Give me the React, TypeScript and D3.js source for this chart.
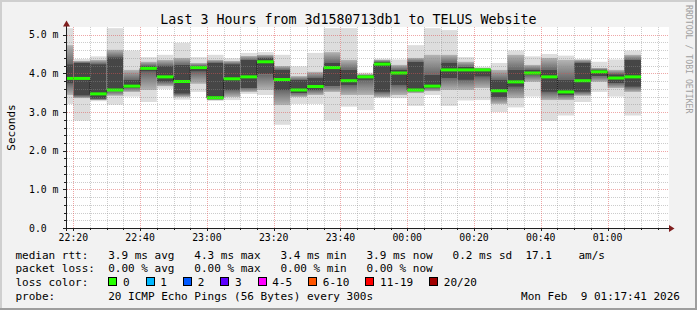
import React from "react";
import * as d3 from "d3";

const W = 697;
const H = 310;
const TITLE = "Last 3 Hours from 3d1580713db1 to TELUS Website";
const Y_LABEL = "Seconds";
const WATERMARK = "RRDTOOL / TOBI OETIKER";

const START = "2026-02-08T22:18:06Z";
const END = "2026-02-09T01:18:06Z";

// end time of each 5-minute step
const barEnds = [
  "22:20", "22:25", "22:30", "22:35", "22:40", "22:45", "22:50", "22:55",
  "23:00", "23:05", "23:10", "23:15", "23:20", "23:25", "23:30", "23:35",
  "23:40", "23:45", "23:50", "23:55", "00:00", "00:05", "00:10", "00:15",
  "00:20", "00:25", "00:30", "00:35", "00:40", "00:45", "00:50", "00:55",
  "01:00", "01:05", "01:10",
];

// smoke envelope (ms): max ping, upper mid, upper core, median, lower core, lower mid, min ping
const pingMax = [5.17, 4.37, 4.44, 5.17, 4.59, 4.42, 4.48, 4.79, 4.42, 4.48, 4.39, 4.53, 4.55, 4.48, 4.18, 4.53, 5.17, 5.17, 4.02, 4.38, 4.36, 4.73, 5.17, 5.12, 4.42, 4.17, 4.27, 4.59, 4.44, 4.50, 4.46, 4.37, 4.30, 4.36, 4.59];
const pingHi2 = [4.73, 4.32, 4.35, 4.61, 4.09, 4.30, 4.35, 4.40, 4.27, 4.35, 4.32, 4.45, 4.48, 4.19, 3.93, 4.04, 4.55, 4.35, 3.98, 4.35, 4.22, 4.40, 4.48, 4.48, 4.30, 4.14, 4.09, 4.48, 4.22, 4.40, 4.35, 4.35, 4.14, 4.09, 4.48];
const pingHi3 = [4.24, 4.27, 4.24, 4.42, 3.83, 4.19, 4.19, 4.22, 4.19, 4.27, 4.24, 4.35, 4.40, 4.09, 3.83, 3.88, 4.27, 4.09, 3.95, 4.30, 4.09, 4.30, 3.96, 4.27, 4.17, 4.11, 3.83, 4.09, 4.09, 4.09, 3.83, 4.27, 4.09, 3.98, 4.35];
const medianRtt = [3.87, 3.87, 3.47, 3.57, 3.67, 4.13, 3.91, 3.79, 4.15, 3.37, 3.86, 3.91, 4.30, 3.84, 3.57, 3.66, 4.15, 3.81, 3.91, 4.24, 4.01, 3.57, 3.67, 4.09, 4.09, 4.09, 3.55, 3.78, 4.01, 3.91, 3.52, 3.81, 4.04, 3.88, 3.91];
const pingLo3 = [3.73, 3.42, 3.34, 3.54, 3.62, 4.04, 3.78, 3.47, 4.04, 3.34, 3.57, 3.62, 3.98, 3.57, 3.49, 3.57, 3.67, 3.70, 3.83, 3.52, 3.70, 3.57, 3.62, 3.88, 3.83, 3.91, 3.39, 3.65, 3.96, 3.52, 3.44, 3.52, 3.93, 3.75, 3.65];
const pingLo2 = [3.44, 3.36, 3.31, 3.42, 3.52, 3.57, 3.67, 3.39, 3.73, 3.31, 3.39, 3.52, 3.57, 3.18, 3.39, 3.44, 3.52, 3.44, 3.44, 3.39, 3.44, 3.49, 3.54, 3.57, 3.57, 3.62, 3.21, 3.36, 3.78, 3.31, 3.31, 3.42, 3.78, 3.62, 3.52];
const pingMin = [3.21, 2.78, 3.28, 3.19, 3.40, 3.26, 3.60, 3.32, 3.52, 3.29, 3.31, 3.47, 3.44, 2.67, 3.21, 3.21, 2.78, 3.14, 3.05, 3.36, 3.36, 3.16, 3.44, 3.16, 3.30, 3.31, 3.00, 3.12, 3.40, 2.77, 2.91, 3.26, 3.52, 3.40, 2.91];

const yTicks = [0, 1, 2, 3, 4, 5];
const yTickLabels = ["0.0", "1.0 m", "2.0 m", "3.0 m", "4.0 m", "5.0 m"];

const statsRtt = ["3.9", "4.3", "3.4", "3.9", "0.2", "17.1"];
const statsLoss = ["0.00", "0.00", "0.00", "0.00"];
const lossLabels = ["0", "1", "2", "3", "4-5", "6-10", "11-19", "20/20"];
const lossColors = ["#26ff00", "#00b8ff", "#0059ff", "#5e00ff", "#ff00ff", "#ff5500", "#ff0000", "#a10000"];
const PROBE = "20 ICMP Echo Pings (56 Bytes) every 300s";
const STAMP = "Mon Feb  9 01:17:41 2026";

const MONO = "'DejaVu Sans Mono', monospace";

function parseEnd(s: string): Date {
  const [h, m] = s.split(":").map(Number);
  const day = h >= 12 ? 8 : 9;
  return new Date(Date.UTC(2026, 1, day, h, m, 0));
}

export default function App() {
  const t0 = new Date(START);
  const t1 = new Date(END);
  const x = d3.scaleUtc().domain([t0, t1]).range([67, 668]);
  const y = d3.scaleLinear().domain([0, 5.2]).range([228, 27]);

  const bars = barEnds.map((s, i) => {
    const end = parseEnd(s);
    const start = new Date(Math.max(end.getTime() - 5 * 60000, t0.getTime()));
    return {
      x0: x(start),
      x1: x(end),
      max: pingMax[i],
      hi2: pingHi2[i],
      hi3: pingHi3[i],
      med: medianRtt[i],
      lo3: pingLo3[i],
      lo2: pingLo2[i],
      min: pingMin[i],
    };
  });

  const medPts: [number, number][] = [];
  bars.forEach((b) => {
    medPts.push([b.x0, y(b.med)]);
    medPts.push([b.x1, y(b.med)]);
  });
  const medLine = d3.line()(medPts) || "";

  // grid
  const minorY: number[] = [];
  for (let k = 1; k <= 25; k++) {
    if (k % 5 !== 0) minorY.push(k / 5);
  }
  const minorX = d3.utcMinute.every(5)!.range(t0, t1).filter((d) => d.getUTCMinutes() % 20 !== 0);
  const majorX = d3.utcMinute.every(20)!.range(t0, t1);
  const allX = d3.utcMinute.every(5)!.range(t0, t1);
  const fmt = d3.utcFormat("%H:%M");

  const px = (v: number) => Math.round(v) + 0.5;

  const cw = 11 * 0.602;
  const lx = 15.5;
  const col = (n: number) => lx + n * cw;

  const row1 = `median rtt:   ${statsRtt[0]} ms avg   ${statsRtt[1]} ms max   ${statsRtt[2]} ms min   ${statsRtt[3]} ms now   ${statsRtt[4]} ms sd  ${statsRtt[5]}    am/s`;
  const row2 = `packet loss:  ${statsLoss[0]} % avg   ${statsLoss[1]} % max   ${statsLoss[2]} % min   ${statsLoss[3]} % now`;

  // legend boxes
  const boxes: { bx: number; tx: number; label: string; color: string }[] = [];
  let bx = 108.3;
  lossLabels.forEach((lab, i) => {
    const tx = bx + 14.7;
    boxes.push({ bx, tx, label: lab, color: lossColors[i] });
    bx = tx + lab.length * cw + 16;
  });

  const GRID = "rgba(143,143,143,0.45)";
  const MGRID = "rgba(222,79,79,0.5)";

  return (
    <svg
      width={W}
      height={H}
      viewBox={`0 0 ${W} ${H}`}
      style={{ position: "absolute", left: 0, top: 0 }}
      fontFamily={MONO}
    >
      <defs>
        <linearGradient id="smokeDown" x1="0" y1="0" x2="0" y2="1">
          <stop offset="0" stopColor="#b4b4b4" />
          <stop offset="1" stopColor="#666666" />
        </linearGradient>
        <linearGradient id="smokeUp" x1="0" y1="0" x2="0" y2="1">
          <stop offset="0" stopColor="#666666" />
          <stop offset="1" stopColor="#b4b4b4" />
        </linearGradient>
      </defs>
      {/* background + shade */}
      <rect x={0} y={0} width={W} height={H} fill="#f2f2f2" />
      <rect x={0} y={0} width={W} height={2} fill="#cfcfcf" />
      <rect x={0} y={0} width={2} height={H} fill="#cfcfcf" />
      <rect x={0} y={H - 2} width={W} height={2} fill="#9e9e9e" />
      <rect x={W - 2} y={0} width={2} height={H} fill="#9e9e9e" />

      {/* canvas */}
      <rect x={67} y={27} width={602} height={201} fill="#ffffff" />

      {/* smoke */}
      {bars.map((b, i) => (
        <g key={"s" + i}>
          <rect x={b.x0} y={y(b.max)} width={b.x1 - b.x0} height={y(b.min) - y(b.max)} fill="#dddddd" />
          <rect x={b.x0} y={y(b.hi2)} width={b.x1 - b.x0} height={Math.max(0, y(b.hi3) - y(b.hi2))} fill="url(#smokeDown)" />
          <rect x={b.x0} y={y(b.hi3)} width={b.x1 - b.x0} height={Math.max(0, y(b.lo3) - y(b.hi3))} fill="#464646" />
          <rect x={b.x0} y={y(b.lo3)} width={b.x1 - b.x0} height={Math.max(0, y(b.lo2) - y(b.lo3))} fill="url(#smokeUp)" />
        </g>
      ))}

      {/* median */}
      <path d={medLine} fill="none" stroke="#202020" strokeWidth={1} />
      {bars.map((b, i) => (
        <rect key={"m" + i} x={b.x0} y={y(b.med) - 1.5} width={b.x1 - b.x0} height={3} fill={lossColors[0]} />
      ))}

      {/* grid */}
      {minorY.map((v) => (
        <line key={"gy" + v} x1={67} x2={668} y1={px(y(v))} y2={px(y(v))} stroke={GRID} strokeDasharray="1,1" />
      ))}
      {minorX.map((d) => (
        <line key={"gx" + d.getTime()} x1={px(x(d))} x2={px(x(d))} y1={27} y2={228} stroke={GRID} strokeDasharray="1,1" />
      ))}
      {yTicks.filter((v) => v > 0).map((v) => (
        <line key={"my" + v} x1={67} x2={668} y1={px(y(v))} y2={px(y(v))} stroke={MGRID} strokeDasharray="1,1" />
      ))}
      {majorX.map((d) => (
        <line key={"mx" + d.getTime()} x1={px(x(d))} x2={px(x(d))} y1={27} y2={228} stroke={MGRID} strokeDasharray="1,1" />
      ))}

      {/* axes */}
      <line x1={63} x2={670} y1={228.5} y2={228.5} stroke="#1f1f1f" />
      <line x1={66.5} x2={66.5} y1={231} y2={25} stroke="#1f1f1f" />
      {allX.map((d) => (
        <line key={"tx" + d.getTime()} x1={px(x(d))} x2={px(x(d))} y1={229} y2={d.getUTCMinutes() % 20 === 0 ? 231 : 230} stroke="#1f1f1f" />
      ))}
      {[...minorY, ...yTicks.filter((v) => v > 0)].map((v) => (
        <line key={"ty" + v} x1={yTicks.includes(v) ? 63 : 64} x2={66} y1={px(y(v))} y2={px(y(v))} stroke="#1f1f1f" />
      ))}
      <polygon points="669,225 674.5,228.5 669,232" fill="#801f1f" />
      <polygon points="63,26.5 66.5,20.5 70,26.5" fill="#801f1f" />

      {/* y labels */}
      {yTicks.map((v, i) => (
        <text key={"yl" + v} x={29} y={y(v) + 3.6} fontSize={9.8} fill="#000">
          {yTickLabels[i]}
        </text>
      ))}
      {/* x labels */}
      {majorX.map((d) => (
        <text key={"xl" + d.getTime()} x={x(d)} y={241} fontSize={9.8} textAnchor="middle" fill="#000">
          {fmt(d)}
        </text>
      ))}

      {/* title */}
      <text x={348.5} y={24} fontSize={13.3} textAnchor="middle" fill="#000">
        {TITLE}
      </text>
      {/* vertical label */}
      <text transform="translate(15,127.5) rotate(-90)" fontSize={11} textAnchor="middle" fill="#000">
        {Y_LABEL}
      </text>
      {/* watermark */}
      <text transform="translate(685.5,5) rotate(90)" fontSize={8.2} fill="#a0a0a0">
        {WATERMARK}
      </text>

      {/* legend */}
      <g fontSize={11} fill="#000" style={{ whiteSpace: "pre" }}>
        <text x={lx} y={258.5} xmlSpace="preserve">{row1}</text>
        <text x={lx} y={272.2} xmlSpace="preserve">{row2}</text>
        <text x={lx} y={285.9} xmlSpace="preserve">{"loss color:"}</text>
        {boxes.map((b, i) => (
          <g key={"lb" + i}>
            <rect x={Math.round(b.bx) + 0.5} y={277.5} width={8} height={8} fill={b.color} stroke="#000" strokeWidth={1} />
            <text x={b.tx} y={285.9}>{b.label}</text>
          </g>
        ))}
        <text x={lx} y={299.6} xmlSpace="preserve">{"probe:"}</text>
        <text x={col(14)} y={299.6} xmlSpace="preserve">{PROBE}</text>
        <text x={680} y={299.6} textAnchor="end" xmlSpace="preserve">{STAMP}</text>
      </g>
    </svg>
  );
}
